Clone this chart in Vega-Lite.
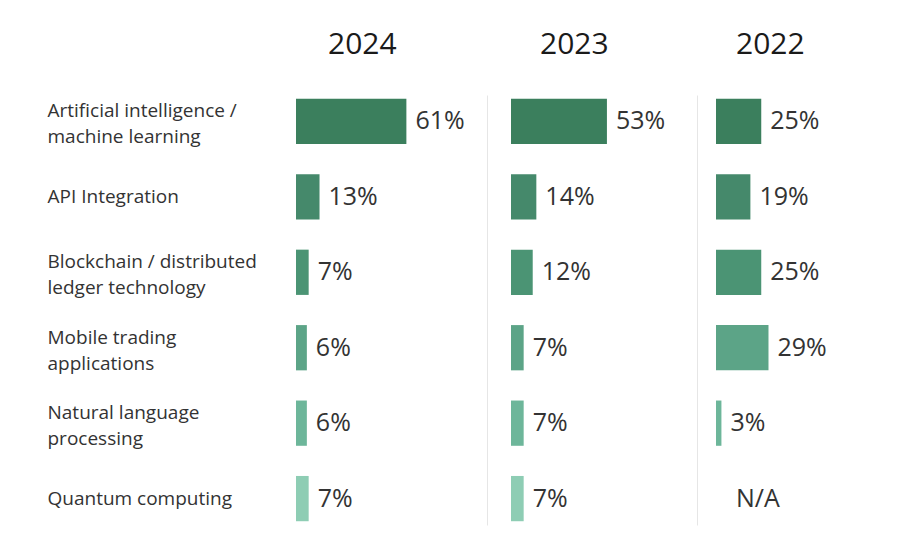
{
  "$schema": "https://vega.github.io/schema/vega-lite/v6.json",
  "padding": {"left": 47, "top": 30, "right": 5, "bottom": 5},
  "background": "white",
  "bounds": "flush",
  "spacing": 25,
  "config": {
    "view": {"stroke": null},
    "font": "Open Sans",
    "title": {"font": "Open Sans", "fontSize": 30, "fontWeight": "normal", "color": "#1a1a1a", "anchor": "start", "frame": "group", "offset": 35}
  },
  "datasets": {
    "d": [
      {"category": "Artificial intelligence / machine learning", "year": 2024, "value": 61},
      {"category": "API Integration", "year": 2024, "value": 13},
      {"category": "Blockchain / distributed ledger technology", "year": 2024, "value": 7},
      {"category": "Mobile trading applications", "year": 2024, "value": 6},
      {"category": "Natural language processing", "year": 2024, "value": 6},
      {"category": "Quantum computing", "year": 2024, "value": 7},
      {"category": "Artificial intelligence / machine learning", "year": 2023, "value": 53},
      {"category": "API Integration", "year": 2023, "value": 14},
      {"category": "Blockchain / distributed ledger technology", "year": 2023, "value": 12},
      {"category": "Mobile trading applications", "year": 2023, "value": 7},
      {"category": "Natural language processing", "year": 2023, "value": 7},
      {"category": "Quantum computing", "year": 2023, "value": 7},
      {"category": "Artificial intelligence / machine learning", "year": 2022, "value": 25},
      {"category": "API Integration", "year": 2022, "value": 19},
      {"category": "Blockchain / distributed ledger technology", "year": 2022, "value": 25},
      {"category": "Mobile trading applications", "year": 2022, "value": 29},
      {"category": "Natural language processing", "year": 2022, "value": 3},
      {"category": "Quantum computing", "year": 2022, "value": null}
    ]
  },
  "hconcat": [
    {
      "title": {"text": "2024", "dx": 32},
      "width": 190,
      "height": 430,
      "data": {"name": "d"},
      "transform": [
        {"filter": "datum.year == 2024"},
        {"calculate": "datum.value == null ? 'N/A' : datum.value + '%'", "as": "label"}
      ],
      "encoding": {
        "y": {
          "field": "category", "type": "nominal", "sort": null,
          "scale": {"paddingInner": 0.4, "paddingOuter": 0.05},
          "axis": {
            "title": null, "domain": false, "ticks": false, "tickSize": 0,
            "labelPadding": 249, "labelAlign": "left", "labelBaseline": "middle",
            "labelFont": "Open Sans", "labelFontSize": 19, "labelColor": "#333333",
            "labelLineHeight": 26, "labelLimit": 0,
            "labelOffset": {"condition": {"test": "length(datum.value) > 20", "value": -10}, "value": 0},
            "labelExpr": "datum.value == 'Artificial intelligence / machine learning' ? ['Artificial intelligence /', 'machine learning'] : datum.value == 'Blockchain / distributed ledger technology' ? ['Blockchain / distributed', 'ledger technology'] : datum.value == 'Mobile trading applications' ? ['Mobile trading', 'applications'] : datum.value == 'Natural language processing' ? ['Natural language', 'processing'] : datum.value"
          }
        }
      },
      "layer": [
        {
          "mark": {"type": "bar"},
          "encoding": {
            "x": {"field": "value", "type": "quantitative", "scale": {"domain": [0, 105], "nice": false}, "axis": null},
            "color": {"field": "category", "type": "nominal", "legend": null,
              "scale": {"domain": ["Artificial intelligence / machine learning", "API Integration", "Blockchain / distributed ledger technology", "Mobile trading applications", "Natural language processing", "Quantum computing"],
                        "range": ["#3b7f5d", "#45896b", "#4b9474", "#5ca487", "#6db69a", "#8ecdb4"]}}
          }
        },
        {
          "mark": {"type": "text", "align": "left", "baseline": "middle", "dx": 9, "fontSize": 25, "font": "Open Sans", "color": "#333333"},
          "encoding": {
            "x": {"field": "value", "type": "quantitative"},
            "text": {"field": "label"}
          }
        }
      ]
    },
    {
      "title": {"text": "2023", "dx": 29},
      "width": 180,
      "height": 430,
      "data": {"name": "d"},
      "transform": [
        {"filter": "datum.year == 2023"},
        {"calculate": "datum.value == null ? 'N/A' : datum.value + '%'", "as": "label"}
      ],
      "encoding": {
        "y": {
          "field": "category", "type": "nominal", "sort": null,
          "scale": {"paddingInner": 0.4, "paddingOuter": 0.05},
          "axis": {"title": null, "labels": false, "ticks": false, "tickSize": 0, "domain": true, "domainColor": "#e6e6e6", "domainWidth": 1, "offset": 24}
        }
      },
      "layer": [
        {
          "mark": {"type": "bar"},
          "encoding": {
            "x": {"field": "value", "type": "quantitative", "scale": {"domain": [0, 99.45], "nice": false}, "axis": null},
            "color": {"field": "category", "type": "nominal", "legend": null,
              "scale": {"domain": ["Artificial intelligence / machine learning", "API Integration", "Blockchain / distributed ledger technology", "Mobile trading applications", "Natural language processing", "Quantum computing"],
                        "range": ["#3b7f5d", "#45896b", "#4b9474", "#5ca487", "#6db69a", "#8ecdb4"]}}
          }
        },
        {
          "mark": {"type": "text", "align": "left", "baseline": "middle", "dx": 9, "fontSize": 25, "font": "Open Sans", "color": "#333333"},
          "encoding": {
            "x": {"field": "value", "type": "quantitative"},
            "text": {"field": "label"}
          }
        }
      ]
    },
    {
      "title": {"text": "2022", "dx": 20},
      "width": 180,
      "height": 430,
      "data": {"name": "d"},
      "transform": [
        {"filter": "datum.year == 2022"},
        {"calculate": "datum.value == null ? 'N/A' : datum.value + '%'", "as": "label"}
      ],
      "encoding": {
        "y": {
          "field": "category", "type": "nominal", "sort": null,
          "scale": {"paddingInner": 0.4, "paddingOuter": 0.05},
          "axis": {"title": null, "labels": false, "ticks": false, "tickSize": 0, "domain": true, "domainColor": "#e6e6e6", "domainWidth": 1, "offset": 19}
        }
      },
      "layer": [
        {
          "mark": {"type": "bar"},
          "encoding": {
            "x": {"field": "value", "type": "quantitative", "scale": {"domain": [0, 99.45], "nice": false}, "axis": null},
            "color": {"field": "category", "type": "nominal", "legend": null,
              "scale": {"domain": ["Artificial intelligence / machine learning", "API Integration", "Blockchain / distributed ledger technology", "Mobile trading applications", "Natural language processing", "Quantum computing"],
                        "range": ["#3b7f5d", "#45896b", "#4b9474", "#5fa88b", "#6db69a", "#8ecdb4"]}}
          }
        },
        {
          "transform": [{"filter": "datum.value != null"}],
          "mark": {"type": "text", "align": "left", "baseline": "middle", "dx": 9, "fontSize": 25, "font": "Open Sans", "color": "#333333"},
          "encoding": {
            "x": {"field": "value", "type": "quantitative"},
            "text": {"field": "label"}
          }
        },
        {
          "transform": [{"filter": "datum.value == null"}],
          "mark": {"type": "text", "align": "left", "baseline": "middle", "dx": 20, "fontSize": 25, "font": "Open Sans", "color": "#333333", "invalid": "show"},
          "encoding": {
            "x": {"field": "value", "type": "quantitative"},
            "text": {"field": "label"}
          }
        }
      ]
    }
  ]
}
